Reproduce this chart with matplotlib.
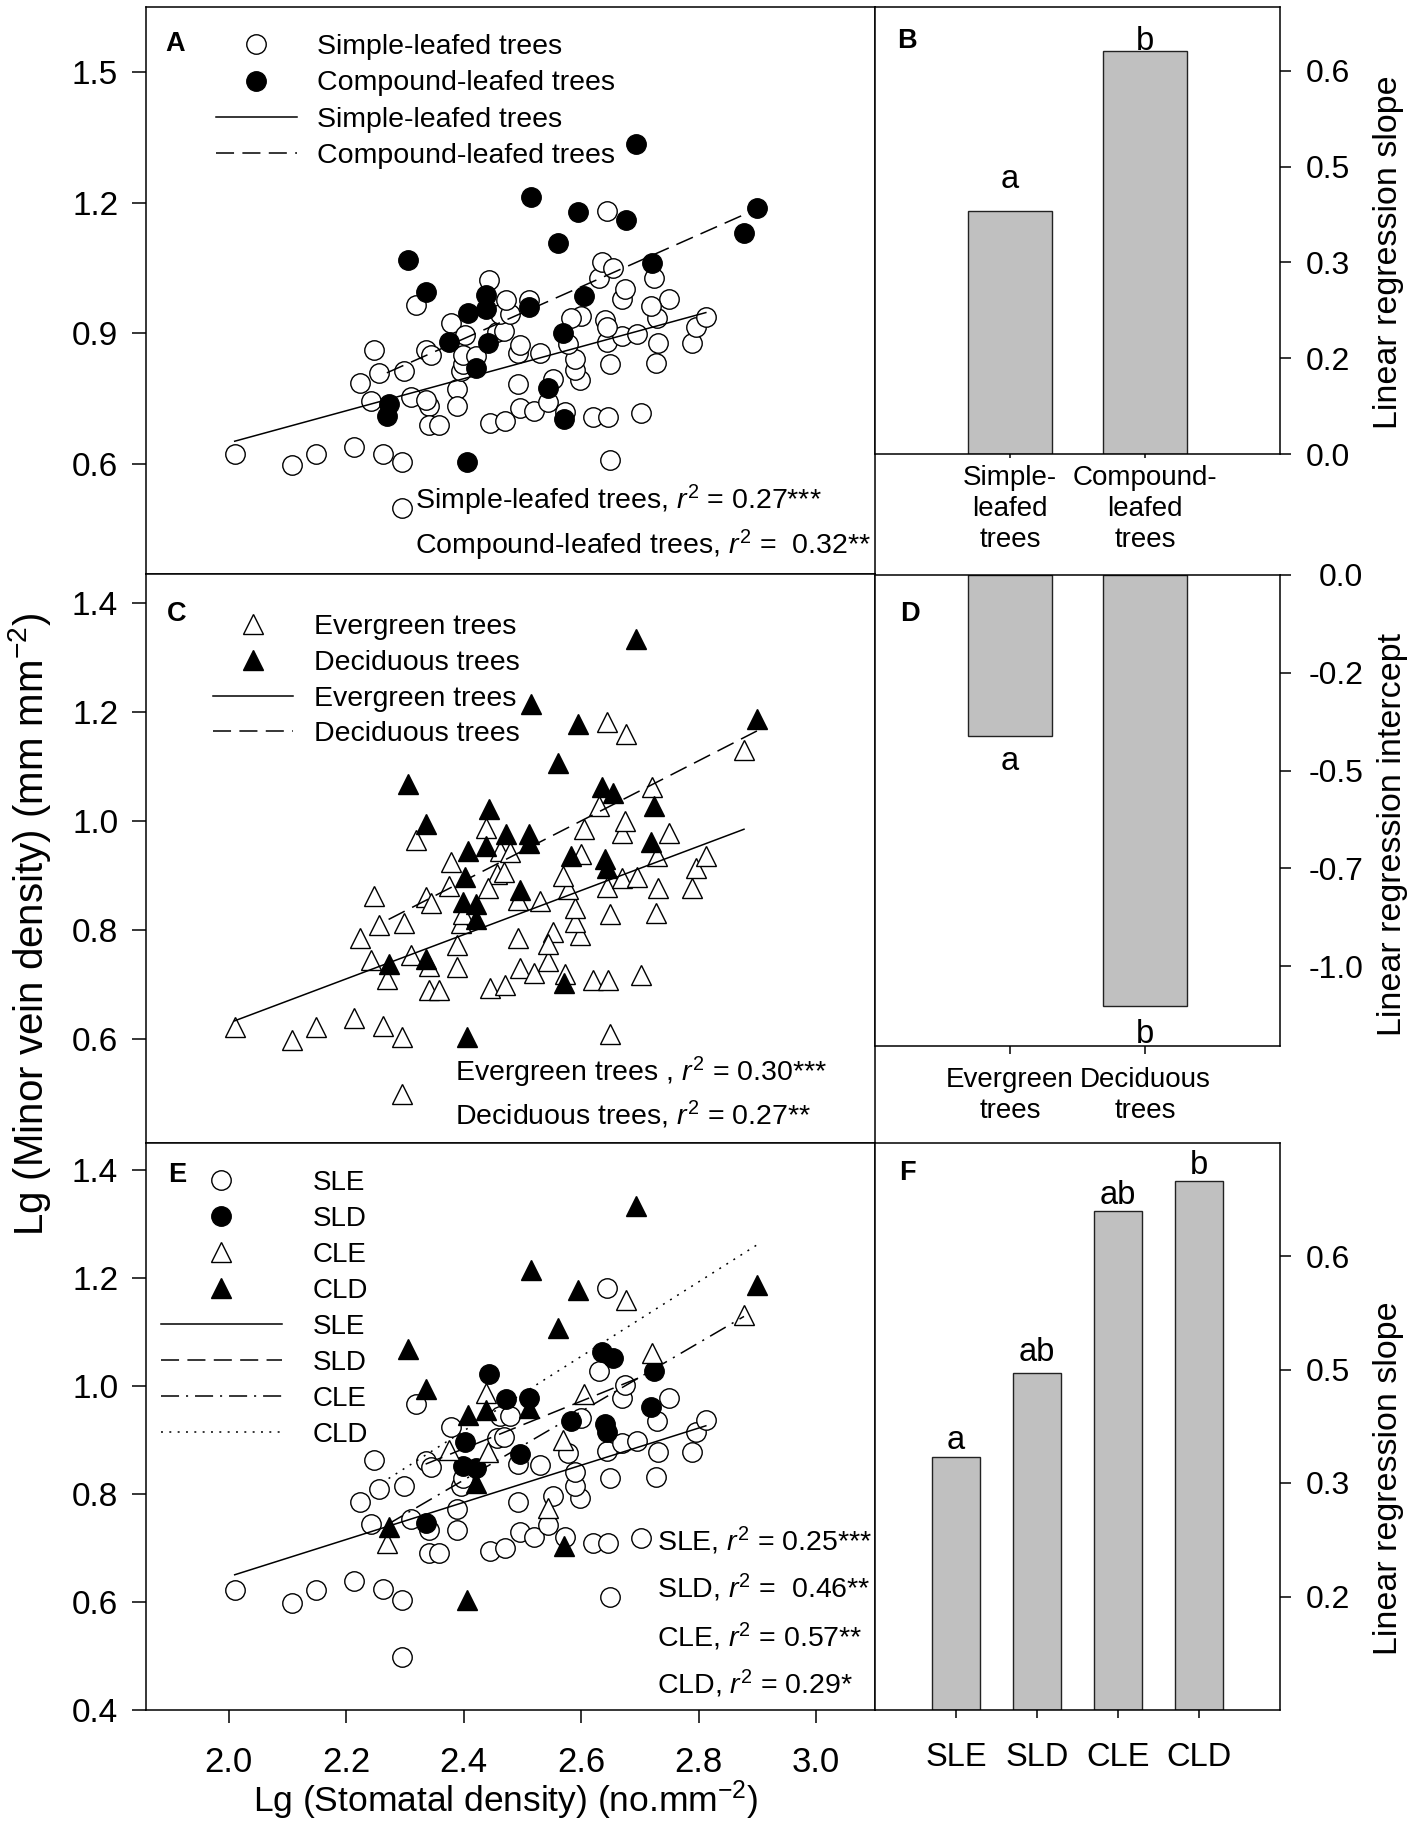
import numpy as np
import matplotlib
matplotlib.use("Agg")
import matplotlib.pyplot as plt
from matplotlib.lines import Line2D

plt.rcParams['font.family'] = ['Liberation Sans', 'DejaVu Sans']
plt.rcParams['mathtext.fontset'] = 'custom'
plt.rcParams['mathtext.rm'] = 'Liberation Sans'
plt.rcParams['mathtext.it'] = 'Liberation Sans:italic'
plt.rcParams['mathtext.bf'] = 'Liberation Sans:bold'
plt.rcParams['axes.linewidth'] = 1.1
plt.rcParams['lines.scale_dashes'] = False

# ---------------- data: scatter points (Lg stomatal density, Lg minor vein density)
sle_x = [2.010, 2.107, 2.148, 2.213, 2.263, 2.294, 2.294, 2.649, 2.247, 2.255,
         2.299, 2.223, 2.242, 2.318, 2.310, 2.341, 2.335, 2.344, 2.341, 2.357,
         2.379, 2.388, 2.388, 2.395, 2.398, 2.444, 2.470, 2.495, 2.519, 2.543,
         2.492, 2.552, 2.597, 2.589, 2.589, 2.649, 2.728, 2.529, 2.492, 2.456,
         2.468, 2.461, 2.479, 2.578, 2.643, 2.669, 2.695, 2.731, 2.788, 2.795,
         2.812, 2.729, 2.749, 2.669, 2.675, 2.630, 2.643, 2.600, 2.572, 2.620,
         2.646, 2.702]
sle_y = [0.623, 0.599, 0.623, 0.639, 0.624, 0.604, 0.499, 0.610, 0.863, 0.810,
         0.814, 0.786, 0.745, 0.966, 0.754, 0.734, 0.861, 0.850, 0.690, 0.690,
         0.925, 0.773, 0.733, 0.814, 0.830, 0.694, 0.700, 0.730, 0.721, 0.743,
         0.785, 0.796, 0.792, 0.815, 0.841, 0.829, 0.832, 0.854, 0.856, 0.904,
         0.906, 0.945, 0.944, 0.876, 0.880, 0.895, 0.898, 0.878, 0.878, 0.915,
         0.937, 0.936, 0.978, 0.978, 1.001, 1.028, 1.181, 0.940, 0.720, 0.709,
         0.709, 0.718]

sld_x = [2.443, 2.472, 2.511, 2.402, 2.398, 2.421, 2.496, 2.582, 2.641, 2.643,
         2.636, 2.654, 2.723, 2.719, 2.335]
sld_y = [1.022, 0.976, 0.977, 0.897, 0.851, 0.848, 0.874, 0.936, 0.930, 0.915,
         1.063, 1.051, 1.027, 0.962, 0.747]

cle_x = [2.676, 2.877, 2.720, 2.437, 2.605, 2.374, 2.442, 2.569, 2.543, 2.269]
cle_y = [1.160, 1.131, 1.062, 0.988, 0.985, 0.881, 0.877, 0.900, 0.775, 0.710]

cld_x = [2.693, 2.515, 2.594, 2.899, 2.560, 2.305, 2.336, 2.407, 2.437, 2.511,
         2.420, 2.272, 2.570, 2.406]
cld_y = [1.334, 1.214, 1.178, 1.187, 1.107, 1.069, 0.994, 0.946, 0.955, 0.960,
         0.820, 0.739, 0.704, 0.604]

# regression lines (slope, intercept)
fit_A = {"simple": (0.368, -0.087), "compound": (0.597, -0.545)}
fit_C = {"evergreen": (0.405, -0.180), "deciduous": (0.551, -0.432)}
fit_E = {"SLE": (0.344, -0.041), "SLD": (0.440, -0.172),
         "CLE": (0.635, -0.698), "CLD": (0.690, -0.739)}

# bar panels
cats_B = ["Simple-\nleafed\ntrees", "Compound-\nleafed\ntrees"]
vals_B = [0.380, 0.631]
lett_B = ["a", "b"]
ticks_B = [0.0, 0.15, 0.30, 0.45, 0.60]
tlab_B = ["0.0", "0.2", "0.3", "0.5", "0.6"]

cats_D = ["Evergreen\ntrees", "Deciduous\ntrees"]
vals_D = [-0.412, -1.102]
lett_D = ["a", "b"]
ticks_D = [0.0, -0.25, -0.50, -0.75, -1.00]
tlab_D = ["0.0", "-0.2", "-0.5", "-0.7", "-1.0"]

cats_F = ["SLE", "SLD", "CLE", "CLD"]
vals_F = [0.334, 0.445, 0.659, 0.699]
lett_F = ["a", "ab", "ab", "b"]
ticks_F = [0.15, 0.30, 0.45, 0.60]
tlab_F = ["0.2", "0.3", "0.5", "0.6"]

r2_A = [r"Simple-leafed trees, $r^2$ = 0.27***", r"Compound-leafed trees, $r^2$ =  0.32**"]
r2_C = [r"Evergreen trees , $r^2$ = 0.30***", r"Deciduous trees, $r^2$ = 0.27**"]
r2_E = [r"SLE, $r^2$ = 0.25***", r"SLD, $r^2$ =  0.46**", r"CLE, $r^2$ = 0.57**", r"CLD, $r^2$ = 0.29*"]

xticks_left = [2.0, 2.2, 2.4, 2.6, 2.8, 3.0]

# ---------------- styles
W, H = 1417, 1830
fig = plt.figure(figsize=(W / 100, H / 100), dpi=100)

def fx(px):
    return px / W

def fy(py):
    return 1 - py / H

LX0, LX1 = 146, 875
RX1 = 1280
axA = fig.add_axes([fx(LX0), fy(574), fx(LX1 - LX0), (574 - 7) / H])
axC = fig.add_axes([fx(LX0), fy(1142.5), fx(LX1 - LX0), (1142.5 - 574) / H])
axE = fig.add_axes([fx(LX0), fy(1710), fx(LX1 - LX0), (1710 - 1142.5) / H])
axB = fig.add_axes([fx(LX1), fy(454), fx(RX1 - LX1), (454 - 7) / H])
axD = fig.add_axes([fx(LX1), fy(1046), fx(RX1 - LX1), (1046 - 575) / H])
axF = fig.add_axes([fx(LX1), fy(1710), fx(RX1 - LX1), (1710 - 1142.5) / H])

MS_C = 14
MS_T = 14
MEW = 1.0
LW = 1.1
ls_solid = '-'
ls_dash = (0, (13, 6))
ls_dashdot = (0, (13, 5, 1.5, 5))
ls_dot = (0, (1.4, 4.6))

open_c = dict(ls='none', marker='o', ms=MS_C, mfc='white', mec='black', mew=MEW)
fill_c = dict(ls='none', marker='o', ms=MS_C, mfc='black', mec='black', mew=MEW)
open_t = dict(ls='none', marker='^', ms=MS_T, mfc='white', mec='black', mew=MEW)
fill_t = dict(ls='none', marker='^', ms=MS_T, mfc='black', mec='black', mew=MEW)


def fit_line(ax, xs, fit, ls):
    xr = np.array([min(xs), max(xs)])
    ax.plot(xr, fit[0] * xr + fit[1], color='black', lw=LW, ls=ls, zorder=5)


def style_left(ax, ylim, yticks, show_xlab):
    ax.set_xlim(1.859, 3.10)
    ax.set_ylim(*ylim)
    ax.set_xticks(xticks_left)
    ax.set_yticks(yticks)
    ax.tick_params(axis='y', direction='out', length=10, width=1.1, labelsize=24, pad=10)
    ax.tick_params(axis='x', direction='out', length=9, width=1.1, labelsize=25, pad=17,
                   labelbottom=show_xlab)
    ax.yaxis.set_major_formatter(matplotlib.ticker.FormatStrFormatter('%.1f'))
    ax.xaxis.set_major_formatter(matplotlib.ticker.FormatStrFormatter('%.1f'))


LEG_FS = 20.5

# ---------------- Panel A
simple_x = sle_x + sld_x
simple_y = sle_y + sld_y
comp_x = cle_x + cld_x
comp_y = cle_y + cld_y
axA.plot(simple_x, simple_y, **open_c)
axA.plot(comp_x, comp_y, **fill_c)
fit_line(axA, simple_x, fit_A["simple"], ls_solid)
fit_line(axA, comp_x, fit_A["compound"], ls_dash)
style_left(axA, (0.348, 1.649), [0.6, 0.9, 1.2, 1.5], False)
hA = [Line2D([], [], **open_c), Line2D([], [], **fill_c),
      Line2D([], [], color='black', lw=LW, ls=ls_solid),
      Line2D([], [], color='black', lw=LW, ls=ls_dash)]
axA.legend(hA, ["Simple-leafed trees", "Compound-leafed trees",
                "Simple-leafed trees", "Compound-leafed trees"],
           loc='upper left', bbox_to_anchor=(0.096, 0.952), frameon=False,
           fontsize=LEG_FS, handlelength=2.84, handletextpad=0.7, labelspacing=0.36,
           borderpad=0, borderaxespad=0, numpoints=1)
axA.text(0.369, 0.1146, r2_A[0], transform=axA.transAxes, fontsize=20.5, va='baseline')
axA.text(0.369, 0.0353, r2_A[1], transform=axA.transAxes, fontsize=20.5, va='baseline')
axA.text(0.040, 0.935, "A", transform=axA.transAxes, fontsize=19.5, fontweight='bold',
         va='center', ha='center')

# ---------------- Panel C
ever_x = sle_x + cle_x
ever_y = sle_y + cle_y
dec_x = sld_x + cld_x
dec_y = sld_y + cld_y
axC.plot(ever_x, ever_y, **open_t)
axC.plot(dec_x, dec_y, **fill_t)
fit_line(axC, ever_x, fit_C["evergreen"], ls_solid)
fit_line(axC, dec_x, fit_C["deciduous"], ls_dash)
style_left(axC, (0.411, 1.453), [0.6, 0.8, 1.0, 1.2, 1.4], False)
hC = [Line2D([], [], **open_t), Line2D([], [], **fill_t),
      Line2D([], [], color='black', lw=LW, ls=ls_solid),
      Line2D([], [], color='black', lw=LW, ls=ls_dash)]
axC.legend(hC, ["Evergreen trees", "Deciduous trees", "Evergreen trees", "Deciduous trees"],
           loc='upper left', bbox_to_anchor=(0.092, 0.929), frameon=False,
           fontsize=LEG_FS, handlelength=2.8, handletextpad=0.74, labelspacing=0.34,
           borderpad=0, borderaxespad=0, numpoints=1)
axC.text(0.424, 0.1071, r2_C[0], transform=axC.transAxes, fontsize=20.5, va='baseline')
axC.text(0.424, 0.0308, r2_C[1], transform=axC.transAxes, fontsize=20.5, va='baseline')
axC.text(0.0425, 0.930, "C", transform=axC.transAxes, fontsize=19.5, fontweight='bold',
         va='center', ha='center')

# ---------------- Panel E
axE.plot(sle_x, sle_y, **open_c)
axE.plot(sld_x, sld_y, **fill_c)
axE.plot(cle_x, cle_y, **open_t)
axE.plot(cld_x, cld_y, **fill_t)
fit_line(axE, sle_x, fit_E["SLE"], ls_solid)
fit_line(axE, sld_x, fit_E["SLD"], ls_dash)
fit_line(axE, cle_x, fit_E["CLE"], ls_dashdot)
fit_line(axE, cld_x, fit_E["CLD"], ls_dot)
style_left(axE, (0.40, 1.451), [0.4, 0.6, 0.8, 1.0, 1.2, 1.4], True)
hE = [Line2D([], [], **open_c), Line2D([], [], **fill_c),
      Line2D([], [], **open_t), Line2D([], [], **fill_t),
      Line2D([], [], color='black', lw=LW, ls=ls_solid),
      Line2D([], [], color='black', lw=LW, ls=ls_dash),
      Line2D([], [], color='black', lw=LW, ls=ls_dashdot),
      Line2D([], [], color='black', lw=LW, ls=ls_dot)]
axE.legend(hE, ["SLE", "SLD", "CLE", "CLD", "SLE", "SLD", "CLE", "CLD"],
           loc='upper left', bbox_to_anchor=(0.0206, 0.952), frameon=False,
           fontsize=20, handlelength=4.35, handletextpad=1.1, labelspacing=0.36,
           borderpad=0, borderaxespad=0, numpoints=1)
for t, yy in zip(r2_E, [0.2802, 0.1981, 0.1116, 0.0289]):
    axE.text(0.701, yy, t, transform=axE.transAxes, fontsize=20.5, va='baseline')
axE.text(0.0425, 0.943, "E", transform=axE.transAxes, fontsize=19.5, fontweight='bold',
         va='center', ha='center')

# ---------------- bar panels
BAR_FC = '#c0c0c0'
BAR_EC = '#222222'


def style_right(ax, ticks, tlabs, cats, cat_fs, cat_pad, xtl, ypad=10.5, right_align=False):
    ax.yaxis.tick_right()
    ax.set_yticks(ticks)
    ax.set_yticklabels(tlabs)
    ax.tick_params(axis='y', direction='out', length=8, width=1.1, labelsize=23, pad=ypad)
    if right_align:
        for lab in ax.get_yticklabels():
            lab.set_horizontalalignment('right')
    ax.set_xticks(range(1, len(cats) + 1))
    ax.set_xticklabels(cats, fontsize=cat_fs, linespacing=1.25)
    ax.tick_params(axis='x', direction='out', length=xtl, width=1.1, pad=cat_pad)


# B
posB = np.arange(1, len(vals_B) + 1)
axB.bar(posB, vals_B, width=0.62, color=BAR_FC, edgecolor=BAR_EC, linewidth=1.0)
axB.set_xlim(0, 3)
axB.set_ylim(0, 0.70)
style_right(axB, ticks_B, tlab_B, cats_B, 20, 5, 3)
for p, v, l, o in zip(posB, vals_B, lett_B, [17, 1]):
    axB.annotate(l, (p, v), xytext=(0, o), textcoords='offset points', ha='center',
                 va='baseline', fontsize=23.5)
axB.text(0.079, 0.923, "B", transform=axB.transAxes, fontsize=19.5, fontweight='bold',
         va='center', ha='center')

# D
posD = np.arange(1, len(vals_D) + 1)
axD.bar(posD, vals_D, width=0.62, color=BAR_FC, edgecolor=BAR_EC, linewidth=1.0)
axD.set_xlim(0, 3)
axD.set_ylim(-1.2046, 0)
style_right(axD, ticks_D, tlab_D, cats_D, 20, 9, 6, ypad=52, right_align=True)
for p, v, l, o in zip(posD, vals_D, lett_D, [-24.5, -26.5]):
    axD.annotate(l, (p, v), xytext=(0, o), textcoords='offset points', ha='center',
                 va='baseline', fontsize=23.5)
axD.text(0.086, 0.918, "D", transform=axD.transAxes, fontsize=19.5, fontweight='bold',
         va='center', ha='center')

# F
posF = np.arange(1, len(vals_F) + 1)
axF.bar(posF, vals_F, width=0.6, color=BAR_FC, edgecolor=BAR_EC, linewidth=1.0)
axF.set_xlim(0, 5)
axF.set_ylim(0, 0.75)
style_right(axF, ticks_F, tlab_F, cats_F, 23.5, 17, 6)
for p, v, l, o in zip(posF, vals_F, lett_F, [6, 9, 5, 5]):
    axF.annotate(l, (p, v), xytext=(0, o), textcoords='offset points', ha='center',
                 va='baseline', fontsize=23.5)
axF.text(0.080, 0.947, "F", transform=axF.transAxes, fontsize=19.5, fontweight='bold',
         va='center', ha='center')

# ---------------- axis labels
fig.text(0.0208, fy(924), r"Lg (Minor vein density) (mm mm$^{-2}$)", rotation=90,
         ha='center', va='center', fontsize=29)
fig.text(fx(506), fy(1800), r"Lg (Stomatal density) (no.mm$^{-2}$)", ha='center',
         va='center', fontsize=25.5)
fig.text(fx(1389), fy(252), "Linear regression slope", rotation=90, ha='center',
         va='center', fontsize=24.5)
fig.text(fx(1393), fy(834), "Linear regression intercept", rotation=90, ha='center',
         va='center', fontsize=24.5)
fig.text(fx(1389), fy(1478), "Linear regression slope", rotation=90, ha='center',
         va='center', fontsize=24.5)

fig.savefig("out.png", dpi=100, facecolor='white')
